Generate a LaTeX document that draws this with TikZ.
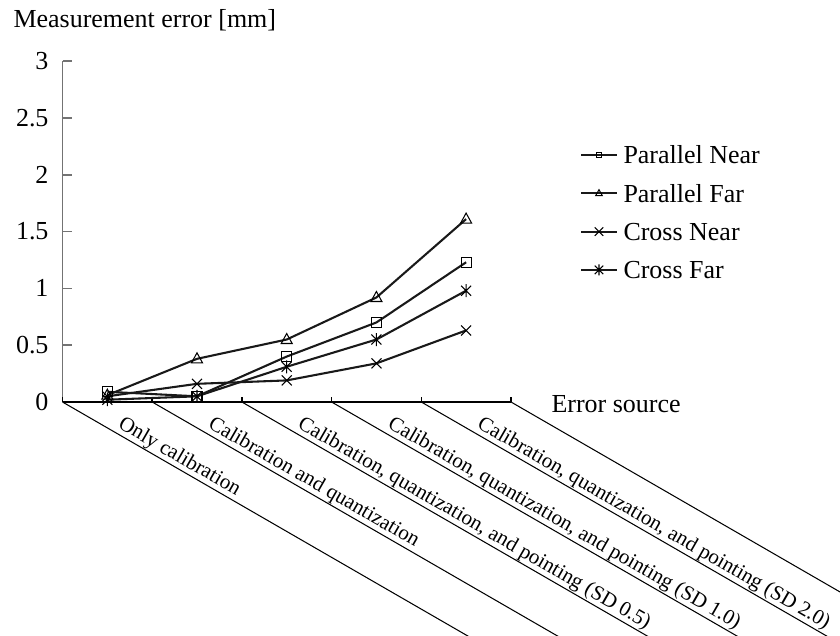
\documentclass[tikz,border=0pt]{standalone}
\usepackage{fontspec}
\setmainfont{Liberation Serif}
\begin{document}
\begin{tikzpicture}[x=0.385pt,y=-0.385pt,
  axisline/.style={line width=0.55pt},
  greyaxis/.style={line width=0.6pt,black!55},
  slantline/.style={line width=0.4pt},
  serie/.style={line width=0.8pt,black!90,line join=round},
  mkline/.style={line width=0.4pt},
  lab/.style={inner sep=0pt,font=\fontsize{10}{12}\selectfont},
  catlab/.style={inner sep=0pt,anchor=north west,rotate=-30,font=\fontsize{8.1}{10}\selectfont},
  sq/.pic={\draw[mkline] (-5,-5) rectangle (5,5);},
  tri/.pic={\draw[mkline] (0,-6) -- (5.5,4) -- (-5.5,4) -- cycle;},
  crs/.pic={\draw[mkline] (-5,-5) -- (5,5) (-5,5) -- (5,-5);},
  ast/.pic={\draw[mkline] (-5,-5) -- (5,5) (-5,5) -- (5,-5) (0,-6.5) -- (0,6.5);}]
\clip (0,0) rectangle (840,636);
% axes
\coordinate (o) at (62.5,402);
\coordinate (ytop) at (62.5,61);
\coordinate (xend) at (511,402);
\draw[greyaxis] (o) -- (ytop);
\foreach \v [count=\i] in {0,0.5,1,1.5,2,2.5,3}{
  \draw[greyaxis] (62.5,{402-113.6*\v}) -- ++(9,0);
  \node[lab,anchor=east] (yl\i) at (49,{402-113.6*\v}) {\v};
}
\draw[axisline] (o) -- (xend);
\node[lab,anchor=base west] (ytitle) at (13,27.3) {Measurement error [mm]};
\node[lab,anchor=base west] (xtitle) at (551,413) {Error source};
% category ticks and slanted separators
\foreach \k in {0,...,5}{
  \coordinate (t\k) at ({62.5+89.7*\k},402);
  \draw[axisline] (t\k) -- ++(0,-5);
  \draw[slantline] (t\k) -- ++(450,259.8);
}
\node[catlab] (c1) at (124.5,414) {Only calibration};
\node[catlab] (c2) at (214.5,414) {Calibration and quantization};
\node[catlab] (c3) at (304,414) {Calibration, quantization, and pointing (SD 0.5)};
\node[catlab] (c4) at (394,414) {Calibration, quantization, and pointing (SD 1.0)};
\node[catlab] (c5) at (483.5,414) {Calibration, quantization, and pointing (SD 2.0)};
% data
\foreach \n/\v in {1/0.09,2/0.05,3/0.40,4/0.70,5/1.23}
  \coordinate (pn\n) at ({17.6+89.7*\n},{402-113.6*\v});
\foreach \n/\v in {1/0.06,2/0.38,3/0.55,4/0.92,5/1.61}
  \coordinate (pf\n) at ({17.6+89.7*\n},{402-113.6*\v});
\foreach \n/\v in {1/0.05,2/0.16,3/0.19,4/0.34,5/0.63}
  \coordinate (cn\n) at ({17.6+89.7*\n},{402-113.6*\v});
\foreach \n/\v in {1/0.02,2/0.05,3/0.31,4/0.55,5/0.98}
  \coordinate (cf\n) at ({17.6+89.7*\n},{402-113.6*\v});
\draw[serie] (pn1) -- (pn2) -- (pn3) -- (pn4) -- (pn5);
\draw[serie] (pf1) -- (pf2) -- (pf3) -- (pf4) -- (pf5);
\draw[serie] (cn1) -- (cn2) -- (cn3) -- (cn4) -- (cn5);
\draw[serie] (cf1) -- (cf2) -- (cf3) -- (cf4) -- (cf5);
\foreach \n in {1,...,5}{
  \pic at (pn\n) {sq};
  \pic at (pf\n) {tri};
  \pic at (cn\n) {crs};
  \pic at (cf\n) {ast};
}
% legend
\foreach \r/\p/\s/\t in {1/sq/0.5/Parallel Near,2/tri/0.6/Parallel Far,3/crs/0.85/Cross Near,4/ast/0.85/Cross Far}{
  \coordinate (la\r) at (581,{155+38.3*(\r-1)});
  \coordinate (lb\r) at (617,{155+38.3*(\r-1)});
  \draw[serie] (la\r) -- (lb\r);
  \pic[scale=\s] at (599,{155+38.3*(\r-1)}) {\p};
  \node[lab,anchor=west] (lg\r) at (623,{155+38.3*(\r-1)}) {\t};
}
\end{tikzpicture}
\end{document}
